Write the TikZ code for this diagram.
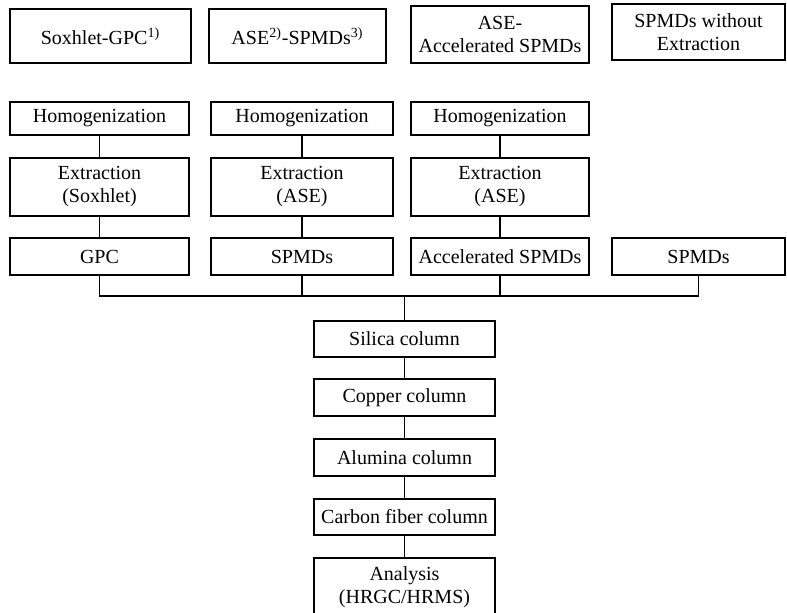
\documentclass[tikz,border=0pt]{standalone}
\usepackage{fontspec}
\setmainfont{Liberation Serif}
\usetikzlibrary{positioning,calc}

\begin{document}
\begin{tikzpicture}[x=0.5pt, y=-0.5pt,
    box/.style={draw, line width=0.6pt, inner sep=0pt, align=center, font=\fontsize{10}{11.5}\selectfont},
    head/.style={box, line width=1.1pt}]
    \useasboundingbox (0,0) rectangle (787,613);

    % Method headers
    \node[head, minimum width=90.5pt, minimum height=27pt] (hsox) at (100.5,36) {Soxhlet-GPC\textsuperscript{1)}};
    \node[head, minimum width=88.5pt, minimum height=27pt] (hase) at (297.5,36) {ASE\textsuperscript{2)}-SPMDs\textsuperscript{3)}};
    \node[head, minimum width=89pt, minimum height=28.5pt] (hacc) at (500,34.5) {ASE-\\Accelerated SPMDs};
    \node[head, minimum width=86.5pt, minimum height=28pt] (hwo) at (698.5,32) {SPMDs without\\Extraction};

    % Homogenization
    \node[box, minimum width=89.5pt, minimum height=16.5pt] (hom1) at (99.5,118.5) {Homogenization};
    \node[box, minimum width=91pt, minimum height=16.5pt] (hom2) at (302,118.5) {Homogenization};
    \node[box, minimum width=89pt, minimum height=16.5pt] (hom3) at (500,118.5) {Homogenization};

    % Extraction
    \node[box, minimum width=89.5pt, minimum height=29pt] (ext1) at (99.5,187) {Extraction\\(Soxhlet)};
    \node[box, minimum width=91pt, minimum height=29pt] (ext2) at (302,187) {Extraction\\(ASE)};
    \node[box, minimum width=89pt, minimum height=29pt] (ext3) at (500,187) {Extraction\\(ASE)};

    % Clean-up / sampling step
    \node[box, minimum width=89.5pt, minimum height=18.5pt] (gpc) at (99.5,256.5) {GPC};
    \node[box, minimum width=91pt, minimum height=18.5pt] (spmd) at (302,256.5) {SPMDs};
    \node[box, minimum width=89pt, minimum height=18.5pt] (accspmd) at (500,256.5) {Accelerated SPMDs};
    \node[box, minimum width=86.5pt, minimum height=18.5pt] (spmdonly) at (698.5,256.5) {SPMDs};

    % Column clean-up and analysis
    \node[box, minimum width=90.5pt, minimum height=18pt] (silica) at (404.5,339) {Silica column};
    \node[box, minimum width=90.5pt, minimum height=18.5pt] (copper) at (404.5,397.5) {Copper column};
    \node[box, minimum width=90.5pt, minimum height=18.5pt] (alumina) at (404.5,457.5) {Alumina column};
    \node[box, minimum width=90.5pt, minimum height=18pt] (carbon) at (404.5,517) {Carbon fiber column};
    \node[box, minimum width=90.5pt, minimum height=29pt] (analysis) at (404.5,587) {Analysis\\(HRGC/HRMS)};

    \coordinate (bus) at (404.5,296);

    % Connectors
    \draw[line width=0.6pt] (hom1) -- (ext1) (ext1) -- (gpc);
    \draw[line width=0.6pt] (hom2) -- (ext2) (ext2) -- (spmd);
    \draw[line width=0.6pt] (hom3) -- (ext3) (ext3) -- (accspmd);
    \draw[line width=0.6pt] (gpc.south) |- (spmdonly.south |- bus) -- (spmdonly.south);
    \draw[line width=0.6pt] (spmd.south) -- (spmd.south |- bus);
    \draw[line width=0.6pt] (accspmd.south) -- (accspmd.south |- bus);
    \draw[line width=0.6pt] (bus) -- (silica.north);
    \draw[line width=0.6pt] (silica) -- (copper) (copper) -- (alumina) (alumina) -- (carbon) (carbon) -- (analysis);
\end{tikzpicture}
\end{document}
